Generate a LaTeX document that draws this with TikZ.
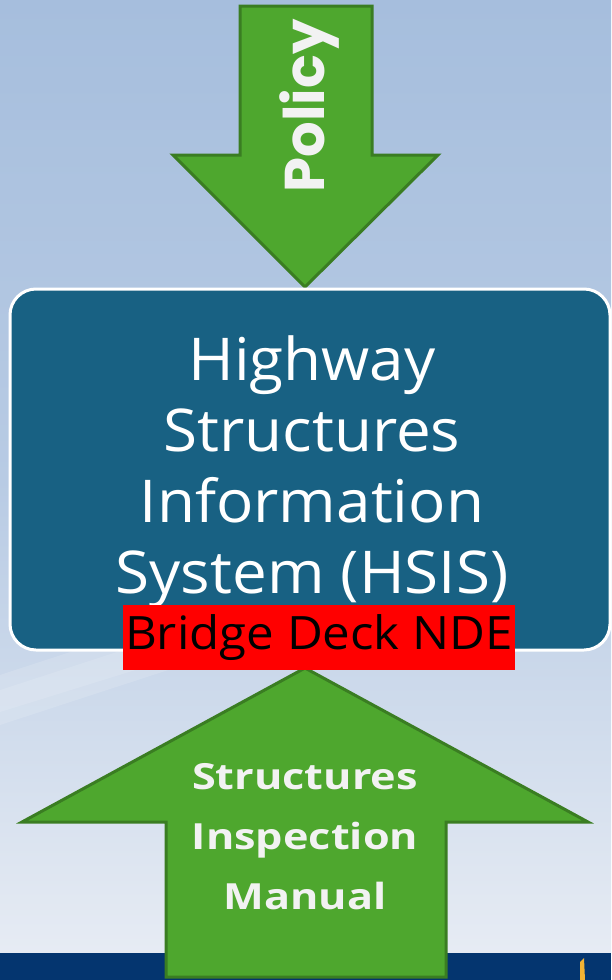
\documentclass[tikz,border=0pt]{standalone}
\usepackage{fontspec}
\setmainfont{Open Sans}
\newfontfamily\boxfont[FakeStretch=1.05]{Open Sans}
\newfontfamily\ndefont[FakeStretch=1.07]{Open Sans}
\newfontfamily\simfont[FakeStretch=1.2]{Open Sans}
\newfontfamily\policyfont{Poppins}
\definecolor{bgtop}{HTML}{A6BEDD}
\definecolor{bgmid}{HTML}{B8CBE4}
\definecolor{bgbot}{HTML}{E7ECF4}
\definecolor{navy}{HTML}{04356F}
\definecolor{agreen}{HTML}{4EA72E}
\definecolor{agreenline}{HTML}{3A7D22}
\definecolor{boxblue}{HTML}{186183}
\definecolor{txtwhite}{HTML}{F2F2F2}
\definecolor{logoyellow}{HTML}{F2B233}
\tikzset{
  arrowshape/.style={fill=agreen, draw=agreenline, line width=3pt, line join=miter},
  hsisbox/.style={fill=boxblue, draw=white, line width=3pt, rounded corners=26pt},
  arrowtext/.style={text=txtwhite, align=center},
}
\begin{document}
\begin{tikzpicture}[x=1pt,y=-1pt]
\useasboundingbox (0,0) rectangle (611,980);
\begin{scope}
\clip (0,0) rectangle (611,980);
\shade[top color=bgtop, bottom color=bgbot, middle color=bgmid] (0,0) rectangle (611,960);
\fill[white, opacity=0.14] (0,675) -- (260,590) -- (260,640) -- (0,725) -- cycle;
\fill[white, opacity=0.12] (0,690) -- (200,625) -- (200,650) -- (0,712) -- cycle;
\fill[navy] (0,953) rectangle (611,980);
\fill[logoyellow] (580,962) -- (584,958) -- (585,980) -- (580,980) -- cycle;
% top arrow
\draw[arrowshape] (240,6) -- (372,6) -- (372,155) -- (438,155) -- (305,287) -- (173,155) -- (240,155) -- cycle;
% bottom arrow
\draw[arrowshape] (305,668) -- (588,822) -- (446,822) -- (446,977) -- (166,977) -- (166,822) -- (22,822) -- cycle;
% box
\draw[hsisbox] (10,289) rectangle (610,650);
\end{scope}
\node[arrowtext, rotate=90, font=\policyfont\bfseries\fontsize{56}{56}\selectfont] (policy) at (309,106) {Policy};
\node[text=white, align=center, font=\boxfont\fontsize{59}{71}\selectfont] (hsis) at (312,472) {Highway\\Structures\\Information\\System (HSIS)};
\node[fill=red, text=black, inner sep=0pt, minimum width=392pt, minimum height=65pt, font=\ndefont\fontsize{46}{50}\selectfont] (nde) at (319,637.5) {Bridge Deck NDE};
\node[arrowtext, font=\simfont\bfseries\fontsize{36}{60}\selectfont] (sim) at (305,837) {Structures\\Inspection\\Manual};
\end{tikzpicture}
\end{document}
